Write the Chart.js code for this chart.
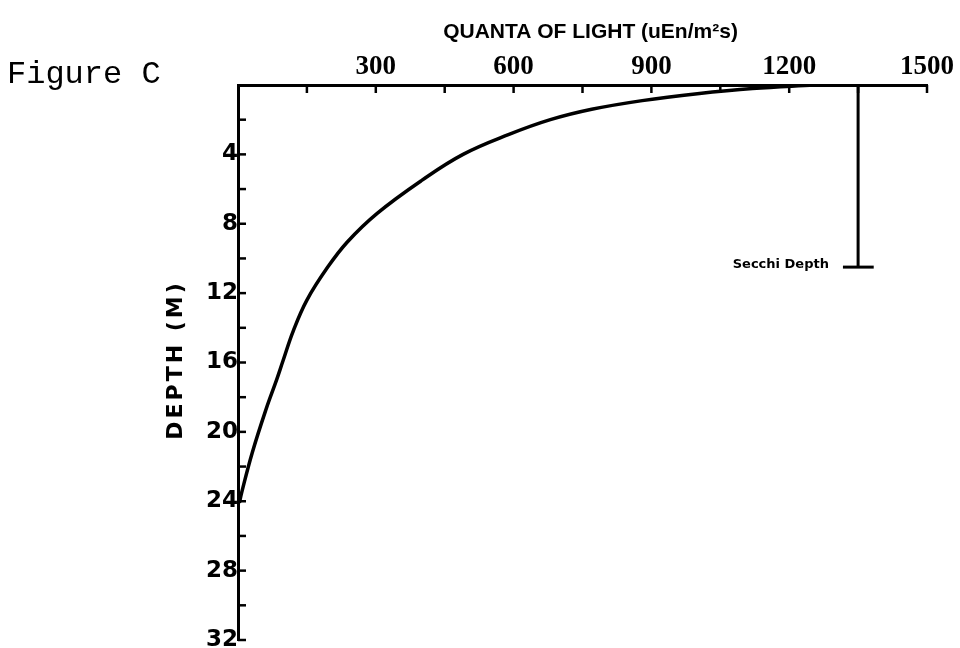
<!DOCTYPE html>
<html>
<head>
<meta charset="utf-8">
<script src="https://cdn.jsdelivr.net/npm/chart.js@4.4.1/dist/chart.umd.min.js"></script>
<style>
  html, body { margin: 0; padding: 0; background: #ffffff; }
  #wrap { width: 960px; height: 648px; position: relative; }
</style>
</head>
<body>
<div id="wrap"><canvas id="c" width="960" height="648"></canvas></div>
<script>
// ---- data ----
const quanta = [1255, 1120, 1000, 880, 770, 680, 590, 490, 400, 303, 238, 194, 150, 120, 98, 84, 61, 31, 8, 3];
const depths = [0, 0.2, 0.5, 0.9, 1.4, 2.0, 2.85, 4.0, 5.5, 7.4, 9.05, 10.55, 12.4, 14.2, 15.9, 17.0, 18.7, 21.2, 23.5, 24.1];
const xTickLabels = [300, 600, 900, 1200, 1500];
const yTickLabels = [4, 8, 12, 16, 20, 24, 28, 32];
const secchiQuanta = 1350;
const secchiDepth = 10.5;
const secchiBarEnds = [1317, 1384];
const secchiLabel = 'Secchi Depth';
const figureLabel = 'Figure C';
const xTitle = 'QUANTA OF LIGHT (uEn/m²s)';
const yTitle = 'DEPTH (M)';

const curve = quanta.map((q, i) => ({ x: q, y: depths[i] }));
const secchiLine = [{ x: secchiQuanta, y: 0 }, { x: secchiQuanta, y: secchiDepth }];
const secchiBar = secchiBarEnds.map(q => ({ x: q, y: secchiDepth }));

const inwardTicks = {
  id: 'inwardTicks',
  afterDatasetsDraw(chart) {
    const ctx = chart.ctx;
    const xs = chart.scales.x, ys = chart.scales.y;
    const ca = chart.chartArea;
    ctx.save();
    ctx.strokeStyle = '#000';
    ctx.lineWidth = 2.5;
    xs.ticks.forEach(t => {
      if (t.value === 0) return;
      const px = xs.getPixelForValue(t.value);
      ctx.beginPath(); ctx.moveTo(px, ca.top); ctx.lineTo(px, ca.top + 8); ctx.stroke();
    });
    ys.ticks.forEach(t => {
      if (t.value === 0) return;
      const py = ys.getPixelForValue(t.value);
      ctx.beginPath(); ctx.moveTo(ca.left, py); ctx.lineTo(ca.left + 8, py); ctx.stroke();
    });
    ctx.restore();
  }
};

const texts = {
  id: 'texts',
  afterDraw(chart) {
    const ctx = chart.ctx;
    const xs = chart.scales.x, ys = chart.scales.y;
    const ca = chart.chartArea;
    ctx.save();
    ctx.fillStyle = '#000';
    // Figure label
    ctx.font = '32px "Liberation Mono", "DejaVu Sans Mono", monospace';
    ctx.textAlign = 'left';
    ctx.textBaseline = 'alphabetic';
    ctx.fillText(figureLabel, 7, 83);
    // x title
    ctx.font = 'bold 21px "Liberation Sans Narrow", "Liberation Sans", sans-serif';
    ctx.textAlign = 'center';
    ctx.textBaseline = 'middle';
    ctx.fillText(xTitle, (ca.left + ca.right) / 2 + 8, 32);
    // y title (rotated, letter spaced)
    ctx.save();
    ctx.translate(176, 360);
    ctx.rotate(-Math.PI / 2);
    ctx.font = 'bold 22px "DejaVu Sans", sans-serif';
    try { ctx.letterSpacing = '3px'; } catch (e) {}
    ctx.textAlign = 'center';
    ctx.textBaseline = 'middle';
    ctx.fillText(yTitle, 0, 0);
    ctx.restore();
    // Secchi label
    ctx.font = 'bold 13px "DejaVu Sans", sans-serif';
    ctx.textAlign = 'right';
    ctx.textBaseline = 'middle';
    ctx.fillText(secchiLabel, xs.getPixelForValue(secchiBarEnds[0]) - 14, ys.getPixelForValue(secchiDepth) - 2);
    ctx.restore();
  }
};

new Chart(document.getElementById('c'), {
  type: 'scatter',
  data: {
    datasets: [
      { data: curve, showLine: true, borderColor: '#000', borderWidth: 3.5, pointRadius: 0, tension: 0.4, fill: false },
      { data: secchiLine, showLine: true, borderColor: '#000', borderWidth: 3, pointRadius: 0, tension: 0 },
      { data: secchiBar, showLine: true, borderColor: '#000', borderWidth: 3, pointRadius: 0, tension: 0 }
    ]
  },
  options: {
    responsive: false,
    animation: false,
    devicePixelRatio: 1,
    layout: { padding: { top: 0, right: 33, bottom: 8, left: 0 } },
    plugins: { legend: { display: false }, tooltip: { enabled: false } },
    scales: {
      x: {
        type: 'linear', position: 'top', min: 0, max: 1500,
        grid: { drawOnChartArea: false, drawTicks: false },
        border: { display: true, color: '#000', width: 3 },
        ticks: {
          stepSize: 150, autoSkip: false, maxRotation: 0, padding: 2, color: '#000',
          font: { family: '"Liberation Serif", serif', weight: 'bold', size: 27 },
          callback: v => xTickLabels.includes(v) ? String(v) : ''
        },
        afterFit(s) { s.height = 85; s.paddingLeft = 0; s.paddingRight = 0; }
      },
      y: {
        type: 'linear', position: 'left', min: 0, max: 32, reverse: true,
        grid: { drawOnChartArea: false, drawTicks: false },
        border: { display: true, color: '#000', width: 3 },
        ticks: {
          stepSize: 2, autoSkip: false, padding: 0, color: '#000',
          font: { family: '"DejaVu Sans", sans-serif', weight: 'bold', size: 23 },
          callback: v => yTickLabels.includes(v) ? String(v) : ''
        },
        afterFit(s) { s.width = 238; s.paddingTop = 0; s.paddingBottom = 0; }
      }
    }
  },
  plugins: [inwardTicks, texts]
});
</script>
</body>
</html>
